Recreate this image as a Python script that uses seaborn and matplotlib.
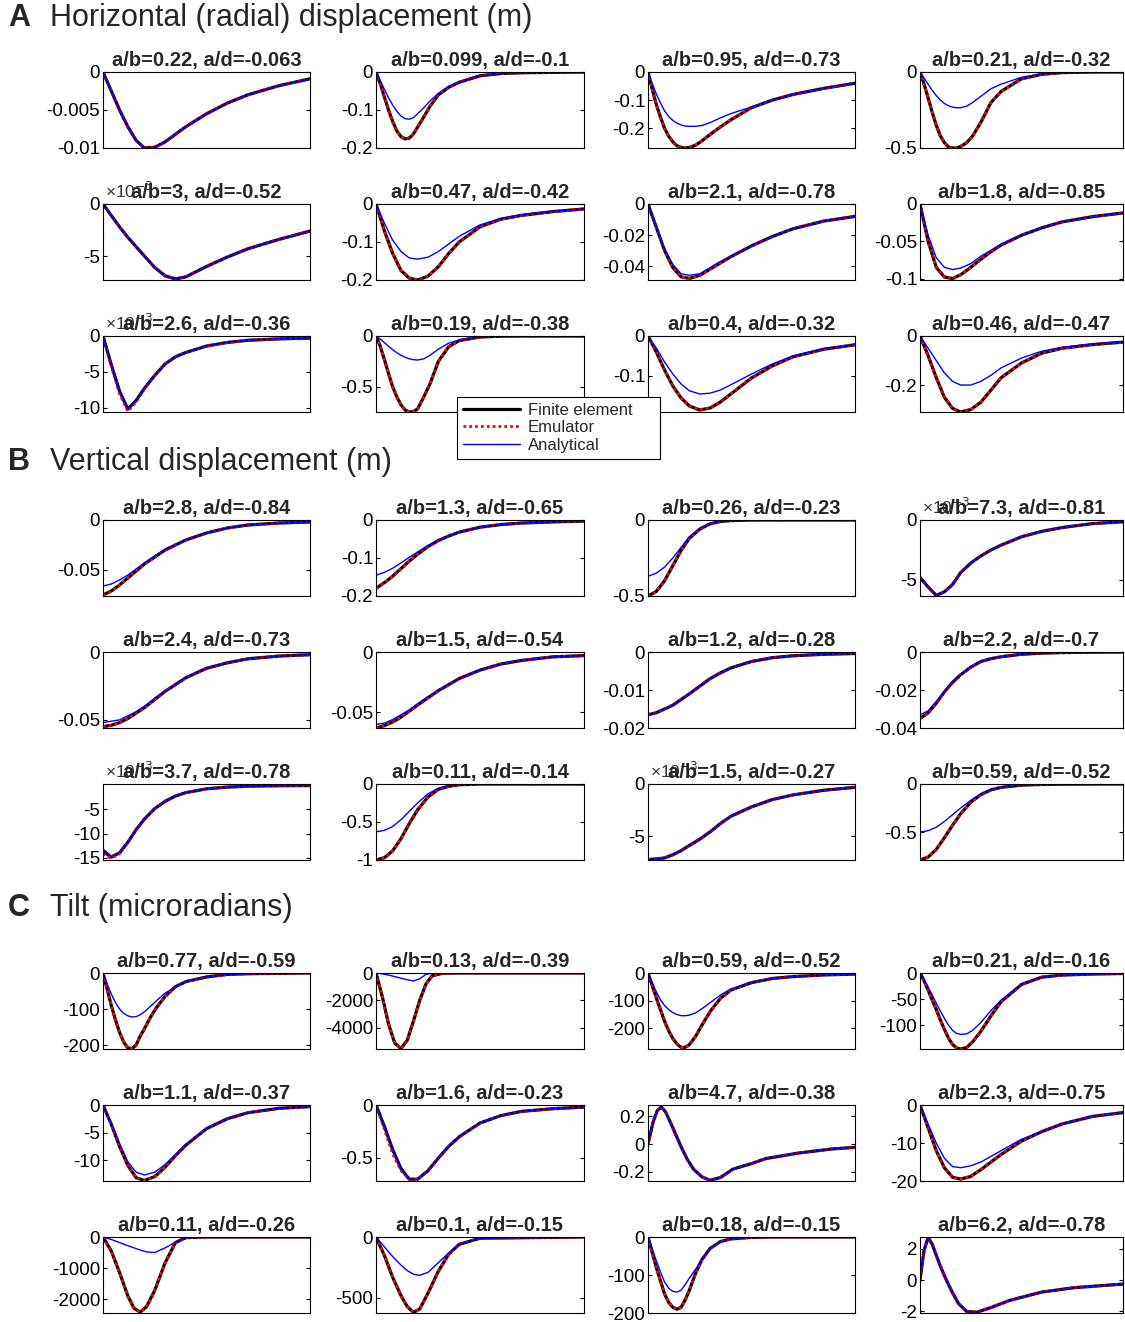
import matplotlib
matplotlib.use("Agg")
import matplotlib.pyplot as plt
import seaborn as sns
from matplotlib.lines import Line2D

# ---------------- x grids (fraction of the distance axis) ----------------
X_STD = [0, .04, .08, .12, .16, .2, .25, .3, .35, .4, .5, .6, .7, .85, 1.0]
X_FINE = [0, .02, .04, .06, .08, .1, .12, .14, .16, .18, .2, .23, .26, .3, .35, .4, .5, .6, .7, .85, 1.0]
X_C2 = [0, .03, .06, .09, .12, .15, .18, .21, .24, .27, .32, .4, .6, 1.0]
X_C7 = [0, .025, .045, .065, .085, .11, .135, .16, .19, .22, .26, .3, .35, .41, .5, .57, .73, .89, 1.0]
X_C9 = [0, .04, .08, .12, .15, .18, .21, .25, .3, .35, .4, .5, 1.0]
X_C12 = [0, .02, .04, .06, .08, .1, .13, .16, .19, .23, .28, .35, .44, .6, .76, 1.0]

# ---------------- titles ----------------
titles = [
    "a/b=0.22, a/d=-0.063", "a/b=0.099, a/d=-0.1", "a/b=0.95, a/d=-0.73", "a/b=0.21, a/d=-0.32",
    "a/b=3, a/d=-0.52", "a/b=0.47, a/d=-0.42", "a/b=2.1, a/d=-0.78", "a/b=1.8, a/d=-0.85",
    "a/b=2.6, a/d=-0.36", "a/b=0.19, a/d=-0.38", "a/b=0.4, a/d=-0.32", "a/b=0.46, a/d=-0.47",
    "a/b=2.8, a/d=-0.84", "a/b=1.3, a/d=-0.65", "a/b=0.26, a/d=-0.23", "a/b=7.3, a/d=-0.81",
    "a/b=2.4, a/d=-0.73", "a/b=1.5, a/d=-0.54", "a/b=1.2, a/d=-0.28", "a/b=2.2, a/d=-0.7",
    "a/b=3.7, a/d=-0.78", "a/b=0.11, a/d=-0.14", "a/b=1.5, a/d=-0.27", "a/b=0.59, a/d=-0.52",
    "a/b=0.77, a/d=-0.59", "a/b=0.13, a/d=-0.39", "a/b=0.59, a/d=-0.52", "a/b=0.21, a/d=-0.16",
    "a/b=1.1, a/d=-0.37", "a/b=1.6, a/d=-0.23", "a/b=4.7, a/d=-0.38", "a/b=2.3, a/d=-0.75",
    "a/b=0.11, a/d=-0.26", "a/b=0.1, a/d=-0.15", "a/b=0.18, a/d=-0.15", "a/b=6.2, a/d=-0.78",
]

# ---------------- A: horizontal displacement ----------------
A1_fe = [0, -0.0025, -0.005, -0.0072, -0.009, -0.01, -0.0099, -0.0092, -0.0082, -0.0072, -0.0055, -0.0041, -0.003, -0.0018, -0.0009]
A1_an = A1_fe
A2_fe = [0, -0.03, -0.065, -0.1, -0.13, -0.155, -0.17, -0.176, -0.174, -0.163, -0.145, -0.118, -0.09, -0.06, -0.04, -0.027, -0.01, -0.004, -0.002, -0.001, 0]
A2_an = [0, -0.022, -0.045, -0.067, -0.087, -0.103, -0.116, -0.123, -0.124, -0.12, -0.11, -0.094, -0.076, -0.056, -0.038, -0.027, -0.01, -0.004, -0.002, -0.001, 0]
A3_fe = [0, -0.06, -0.115, -0.16, -0.2, -0.228, -0.248, -0.262, -0.268, -0.27, -0.268, -0.26, -0.245, -0.222, -0.195, -0.17, -0.127, -0.1, -0.08, -0.058, -0.04]
A3_an = [0, -0.04, -0.078, -0.11, -0.138, -0.158, -0.172, -0.182, -0.188, -0.192, -0.193, -0.193, -0.19, -0.18, -0.163, -0.148, -0.124, -0.1, -0.08, -0.058, -0.04]
A4_fe = [0, -0.08, -0.17, -0.265, -0.35, -0.42, -0.465, -0.493, -0.5, -0.5, -0.49, -0.465, -0.42, -0.33, -0.2, -0.127, -0.045, -0.015, -0.004, 0, 0]
A4_an = [0, -0.04, -0.08, -0.12, -0.155, -0.185, -0.207, -0.222, -0.231, -0.235, -0.235, -0.225, -0.2, -0.16, -0.11, -0.08, -0.035, -0.013, -0.004, 0, 0]
A5_fe = [0, -1.1, -2.2, -3.2, -4.1, -5.0, -6.1, -6.9, -7.2, -7.0, -6.0, -5.1, -4.3, -3.4, -2.6]
A5_an = A5_fe
A6_fe = [0, -0.07, -0.13, -0.175, -0.195, -0.2, -0.19, -0.165, -0.13, -0.1, -0.06, -0.04, -0.03, -0.02, -0.013]
A6_an = [0, -0.05, -0.095, -0.125, -0.142, -0.145, -0.14, -0.125, -0.105, -0.085, -0.055, -0.038, -0.028, -0.019, -0.013]
A7_fe = [0, -0.015, -0.03, -0.041, -0.047, -0.048, -0.046, -0.042, -0.038, -0.034, -0.027, -0.021, -0.016, -0.011, -0.008]
A7_an = [0, -0.015, -0.029, -0.039, -0.045, -0.046, -0.045, -0.041, -0.037, -0.034, -0.027, -0.021, -0.016, -0.011, -0.008]
A8_fe = [0, -0.05, -0.085, -0.098, -0.1, -0.095, -0.085, -0.074, -0.064, -0.055, -0.042, -0.032, -0.024, -0.017, -0.012]
A8_an = [0, -0.042, -0.072, -0.085, -0.088, -0.086, -0.08, -0.07, -0.062, -0.054, -0.042, -0.032, -0.024, -0.017, -0.012]
A9_fe = [0, -4.0, -7.7, -10.2, -9.0, -7.3, -5.5, -3.9, -2.9, -2.3, -1.4, -0.9, -0.6, -0.4, -0.3]
A9_em = [0, -4.2, -8.1, -10.5, -9.2, -7.4, -5.5, -3.9, -2.9, -2.3, -1.4, -0.9, -0.6, -0.4, -0.3]
A9_an = A9_fe
A10_fe = [0, -0.1, -0.23, -0.37, -0.5, -0.6, -0.68, -0.73, -0.75, -0.745, -0.72, -0.6, -0.47, -0.25, -0.105, -0.045, -0.01, -0.002, 0, 0, 0]
A10_an = [0, -0.03, -0.065, -0.1, -0.135, -0.165, -0.19, -0.21, -0.225, -0.234, -0.237, -0.225, -0.19, -0.13, -0.07, -0.04, -0.01, -0.002, 0, 0, 0]
A11_fe = [0, -0.04, -0.085, -0.125, -0.155, -0.175, -0.185, -0.18, -0.165, -0.145, -0.105, -0.075, -0.052, -0.033, -0.022]
A11_an = [0, -0.03, -0.065, -0.095, -0.12, -0.137, -0.145, -0.143, -0.135, -0.122, -0.095, -0.07, -0.05, -0.032, -0.022]
A12_fe = [0, -0.08, -0.17, -0.25, -0.295, -0.31, -0.3, -0.27, -0.22, -0.17, -0.11, -0.07, -0.05, -0.035, -0.025]
A12_an = [0, -0.05, -0.1, -0.15, -0.185, -0.2, -0.2, -0.185, -0.16, -0.13, -0.09, -0.062, -0.046, -0.033, -0.025]

# ---------------- B: vertical displacement ----------------
B1_fe = [-0.075, -0.071, -0.065, -0.058, -0.051, -0.044, -0.037, -0.03, -0.025, -0.02, -0.013, -0.008, -0.005, -0.003, -0.002]
B1_an = [-0.066, -0.064, -0.06, -0.055, -0.049, -0.043, -0.036, -0.03, -0.025, -0.02, -0.013, -0.008, -0.005, -0.003, -0.002]
B2_fe = [-0.18, -0.165, -0.148, -0.128, -0.108, -0.09, -0.07, -0.054, -0.042, -0.032, -0.019, -0.012, -0.008, -0.005, -0.003]
B2_an = [-0.145, -0.138, -0.127, -0.113, -0.098, -0.084, -0.067, -0.054, -0.042, -0.032, -0.019, -0.012, -0.008, -0.005, -0.003]
B3_fe = [-0.5, -0.47, -0.4, -0.3, -0.2, -0.12, -0.06, -0.025, -0.01, -0.004, 0, 0, 0, 0, 0]
B3_an = [-0.37, -0.35, -0.31, -0.25, -0.18, -0.11, -0.055, -0.022, -0.01, -0.004, 0, 0, 0, 0, 0]
B4_fe = [-4.8, -5.6, -6.3, -6.0, -5.4, -4.4, -3.6, -3.0, -2.5, -2.1, -1.4, -0.95, -0.63, -0.3, -0.15]
B4_an = B4_fe
B5_fe = [-0.055, -0.054, -0.052, -0.049, -0.045, -0.041, -0.035, -0.029, -0.024, -0.019, -0.012, -0.008, -0.005, -0.003, -0.002]
B5_an = [-0.052, -0.051, -0.05, -0.047, -0.044, -0.04, -0.034, -0.029, -0.024, -0.019, -0.012, -0.008, -0.005, -0.003, -0.002]
B6_fe = [-0.063, -0.061, -0.058, -0.054, -0.049, -0.044, -0.038, -0.032, -0.027, -0.022, -0.015, -0.01, -0.007, -0.004, -0.003]
B6_an = [-0.06, -0.059, -0.056, -0.052, -0.048, -0.043, -0.037, -0.032, -0.027, -0.022, -0.015, -0.01, -0.007, -0.004, -0.003]
B7_fe = [-0.0165, -0.016, -0.015, -0.014, -0.0125, -0.011, -0.009, -0.007, -0.0055, -0.0042, -0.0025, -0.0015, -0.001, -0.0006, -0.0004]
B7_an = B7_fe
B8_fe = [-0.035, -0.032, -0.027, -0.021, -0.016, -0.012, -0.008, -0.005, -0.0035, -0.0025, -0.0012, -0.0006, -0.0003, -0.0001, 0]
B8_an = [-0.033, -0.031, -0.026, -0.021, -0.016, -0.012, -0.008, -0.005, -0.0035, -0.0025, -0.0012, -0.0006, -0.0003, -0.0001, 0]
B9_fe = [-13.7, -14.9, -14.0, -11.8, -9.2, -7.0, -4.8, -3.3, -2.2, -1.5, -0.7, -0.35, -0.15, -0.06, -0.03]
B9_em = [-14.2, -15.2, -14.2, -11.9, -9.2, -7.0, -4.8, -3.3, -2.2, -1.5, -0.7, -0.35, -0.15, -0.06, -0.03]
B9_an = [-13.2, -14.7, -13.9, -11.8, -9.2, -7.0, -4.8, -3.3, -2.2, -1.5, -0.7, -0.35, -0.15, -0.06, -0.03]
B10_fe = [-1.0, -0.97, -0.88, -0.72, -0.52, -0.34, -0.17, -0.07, -0.03, -0.01, 0, 0, 0, 0, 0]
B10_an = [-0.63, -0.61, -0.56, -0.47, -0.36, -0.25, -0.13, -0.055, -0.02, -0.008, 0, 0, 0, 0, 0]
B11_fe = [-7.25, -7.2, -7.1, -6.8, -6.4, -5.9, -5.3, -4.6, -3.8, -3.1, -2.2, -1.5, -1.05, -0.6, -0.32]
B11_an = B11_fe
B12_fe = [-0.79, -0.76, -0.68, -0.56, -0.43, -0.31, -0.19, -0.11, -0.06, -0.035, -0.012, -0.005, -0.002, 0, 0]
B12_an = [-0.5, -0.485, -0.45, -0.39, -0.32, -0.25, -0.17, -0.1, -0.06, -0.035, -0.012, -0.005, -0.002, 0, 0]

# ---------------- C: tilt ----------------
C1_fe = [0, -45, -90, -130, -165, -192, -208, -210, -200, -175, -155, -122, -95, -65, -38, -24, -11, -4, -2, -1, 0]
C1_an = [0, -30, -58, -82, -100, -112, -119, -122, -121, -116, -108, -92, -76, -56, -38, -24, -11, -4, -2, -1, 0]
C2_fe = [0, -1700, -3700, -5100, -5500, -4900, -3500, -2000, -800, -200, -20, 0, 0, 0]
C2_an = [0, -60, -150, -260, -380, -490, -580, -420, -100, -20, 0, 0, 0, 0]
C3_fe = [0, -45, -90, -133, -175, -210, -238, -258, -270, -270, -260, -230, -190, -140, -92, -62, -35, -20, -13, -7, -4]
C3_an = [0, -35, -68, -97, -118, -133, -144, -151, -155, -155, -153, -145, -130, -108, -80, -58, -35, -20, -13, -7, -4]
C4_fe = [0, -15, -33, -52, -70, -90, -108, -125, -137, -144, -146, -143, -132, -112, -82, -55, -22, -8, -4, -2, -1]
C4_an = [0, -12, -27, -42, -58, -73, -87, -100, -110, -116, -118, -117, -110, -95, -72, -52, -22, -8, -4, -2, -1]
C5_fe = [0, -3.5, -7.5, -11, -13.2, -13.7, -13, -11.3, -9.2, -7.3, -4.3, -2.5, -1.4, -0.6, -0.3]
C5_an = [0, -3.3, -7, -10.3, -12.2, -12.7, -12.2, -10.8, -9, -7.3, -4.3, -2.5, -1.4, -0.6, -0.3]
C6_fe = [0, -0.2, -0.42, -0.6, -0.7, -0.7, -0.62, -0.5, -0.39, -0.3, -0.17, -0.1, -0.06, -0.035, -0.02]
C6_em = [0, -0.23, -0.46, -0.62, -0.7, -0.7, -0.62, -0.5, -0.39, -0.3, -0.17, -0.1, -0.06, -0.035, -0.02]
C6_an = C6_fe
C7_fe = [0, 0.16, 0.24, 0.266, 0.23, 0.15, 0.065, -0.02, -0.11, -0.18, -0.235, -0.26, -0.24, -0.18, -0.14, -0.104, -0.064, -0.035, -0.024]
C7_an = C7_fe
C8_fe = [0, -6, -12, -16.5, -19, -19.5, -18.8, -17, -15, -13, -9.5, -7, -5, -3, -2]
C8_an = [0, -5, -10, -14, -16.2, -16.5, -16, -15, -13.5, -12, -9, -7, -5, -3, -2]
C9_fe = [0, -450, -1150, -1900, -2300, -2420, -2250, -1720, -830, -180, -20, 0, 0]
C9_an = [0, -80, -180, -280, -350, -420, -480, -500, -350, -170, -20, 0, 0]
C10_fe = [0, -150, -330, -480, -570, -618, -590, -460, -280, -140, -60, -10, 0]
C10_an = [0, -80, -160, -230, -275, -305, -314, -290, -210, -130, -60, -10, 0]
C11_fe = [0, -40, -80, -115, -150, -172, -185, -190, -185, -165, -140, -95, -60, -30, -12, -5, -1, 0, 0, 0, 0]
C11_an = [0, -30, -62, -92, -118, -135, -143, -145, -140, -125, -108, -85, -58, -30, -12, -5, -1, 0, 0, 0, 0]
C12_fe = [0, 1.9, 2.74, 2.3, 1.6, 0.9, 0, -0.8, -1.5, -2.0, -2.05, -1.75, -1.3, -0.76, -0.48, -0.25]
C12_an = C12_fe

# ---------------- y tick labels and limits ----------------
ytick_labels = [
    ['0', '-0.005', '-0.01'], ['0', '-0.1', '-0.2'], ['0', '-0.1', '-0.2'], ['0', '-0.5'],
    ['0', '-5'], ['0', '-0.1', '-0.2'], ['0', '-0.02', '-0.04'], ['0', '-0.05', '-0.1'],
    ['0', '-5', '-10'], ['0', '-0.5'], ['0', '-0.1'], ['0', '-0.2'],
    ['0', '-0.05'], ['0', '-0.1', '-0.2'], ['0', '-0.5'], ['0', '-5'],
    ['0', '-0.05'], ['0', '-0.05'], ['0', '-0.01', '-0.02'], ['0', '-0.02', '-0.04'],
    ['-5', '-10', '-15'], ['0', '-0.5', '-1'], ['0', '-5'], ['0', '-0.5'],
    ['0', '-100', '-200'], ['0', '-2000', '-4000'], ['0', '-100', '-200'], ['0', '-50', '-100'],
    ['0', '-5', '-10'], ['0', '-0.5'], ['0.2', '0', '-0.2'], ['0', '-10', '-20'],
    ['0', '-1000', '-2000'], ['0', '-500'], ['0', '-100', '-200'], ['2', '0', '-2'],
]
ylims = [
    (-0.01, 0), (-0.2, 0), (-0.27, 0), (-0.5, 0),
    (-7.3, 0), (-0.2, 0), (-0.049, 0), (-0.102, 0),
    (-10.6, 0), (-0.75, 0), (-0.19, 0), (-0.31, 0),
    (-0.076, 0), (-0.2, 0), (-0.5, 0), (-6.35, 0),
    (-0.056, 0), (-0.063, 0), (-0.02, 0), (-0.04, 0),
    (-15.5, 0.3), (-1.0, 0), (-7.3, 0), (-0.79, 0),
    (-211, 0), (-5530, 0), (-276, 0), (-146, 0),
    (-13.8, 0), (-0.717, 0), (-0.265, 0.28), (-20, 0),
    (-2450, 0), (-623, 0), (-200, 0), (-2.1, 2.76),
]
exp_panels = [4, 8, 15, 20, 22]

panels = [
    (X_STD, A1_fe, A1_fe, A1_an), (X_FINE, A2_fe, A2_fe, A2_an), (X_FINE, A3_fe, A3_fe, A3_an), (X_FINE, A4_fe, A4_fe, A4_an),
    (X_STD, A5_fe, A5_fe, A5_an), (X_STD, A6_fe, A6_fe, A6_an), (X_STD, A7_fe, A7_fe, A7_an), (X_STD, A8_fe, A8_fe, A8_an),
    (X_STD, A9_fe, A9_em, A9_an), (X_FINE, A10_fe, A10_fe, A10_an), (X_STD, A11_fe, A11_fe, A11_an), (X_STD, A12_fe, A12_fe, A12_an),
    (X_STD, B1_fe, B1_fe, B1_an), (X_STD, B2_fe, B2_fe, B2_an), (X_STD, B3_fe, B3_fe, B3_an), (X_STD, B4_fe, B4_fe, B4_an),
    (X_STD, B5_fe, B5_fe, B5_an), (X_STD, B6_fe, B6_fe, B6_an), (X_STD, B7_fe, B7_fe, B7_an), (X_STD, B8_fe, B8_fe, B8_an),
    (X_STD, B9_fe, B9_em, B9_an), (X_STD, B10_fe, B10_fe, B10_an), (X_STD, B11_fe, B11_fe, B11_an), (X_STD, B12_fe, B12_fe, B12_an),
    (X_FINE, C1_fe, C1_fe, C1_an), (X_C2, C2_fe, C2_fe, C2_an), (X_FINE, C3_fe, C3_fe, C3_an), (X_FINE, C4_fe, C4_fe, C4_an),
    (X_STD, C5_fe, C5_fe, C5_an), (X_STD, C6_fe, C6_em, C6_an), (X_C7, C7_fe, C7_fe, C7_an), (X_STD, C8_fe, C8_fe, C8_an),
    (X_C9, C9_fe, C9_fe, C9_an), (X_C9, C10_fe, C10_fe, C10_an), (X_FINE, C11_fe, C11_fe, C11_an), (X_C12, C12_fe, C12_fe, C12_an),
]

section_titles = [("A", "Horizontal (radial) displacement (m)", 18),
                  ("B", "Vertical displacement (m)", 462),
                  ("C", "Tilt (microradians)", 908)]

# ---------------- drawing ----------------
sns.set_theme(style="white")
plt.rcParams['font.family'] = ['Liberation Sans', 'DejaVu Sans']

W, H = 1125, 1322
fig = plt.figure(figsize=(W / 100, H / 100), dpi=100)
fig.patch.set_facecolor('white')

COL_LEFT = [103, 376, 648, 920]
COL_W = [207, 208, 207, 203]
ROW_TOP = [72, 204, 336, 520, 652, 784, 973, 1105, 1237]
AX_H = 76

FE_KW = dict(color='black', linewidth=2.3)
EM_KW = dict(color='#ff0000', linewidth=2.0, linestyle=(0, (1, 1.1)))
AN_KW = dict(color='#0000ff', linewidth=1.0)

for i, (x, fe, em, an) in enumerate(panels):
    r, c = divmod(i, 4)
    ax = fig.add_axes([COL_LEFT[c] / W, 1 - (ROW_TOP[r] + AX_H) / H, COL_W[c] / W, AX_H / H])
    sns.lineplot(x=x, y=fe, ax=ax, estimator=None, sort=False, **FE_KW)
    sns.lineplot(x=x, y=em, ax=ax, estimator=None, sort=False, **EM_KW)
    sns.lineplot(x=x, y=an, ax=ax, estimator=None, sort=False, **AN_KW)
    ax.set_xlim(0, 1)
    ax.set_ylim(*ylims[i])
    labels = ytick_labels[i]
    ax.set_yticks([float(s) for s in labels])
    ax.set_yticklabels(labels)
    ax.set_xticks([])
    ax.set_xlabel('')
    ax.set_ylabel('')
    ax.tick_params(axis='y', direction='in', length=3, width=0.8, left=True, right=True,
                   labelsize=13.5, pad=2, colors='black')
    for sp in ax.spines.values():
        sp.set_color('black')
        sp.set_linewidth(0.8)
    if i in exp_panels:
        ax.text(0.01, 1.04, '×10$^{-3}$', transform=ax.transAxes, ha='left', va='bottom',
                fontsize=12.5, color='#333333', zorder=1)
    ax.set_title(titles[i], fontsize=14.5, fontweight='bold', pad=4)

for letter, text, ypx in section_titles:
    fig.text(8 / W, 1 - ypx / H, letter, fontsize=22, fontweight='bold', va='center', ha='left')
    fig.text(50 / W, 1 - ypx / H, text, fontsize=22, va='center', ha='left')

handles = [Line2D([], [], **FE_KW), Line2D([], [], **EM_KW), Line2D([], [], **AN_KW)]
leg = fig.legend(handles, ['Finite element', 'Emulator', 'Analytical'],
                 loc='upper left', bbox_to_anchor=(457 / W, 1 - 472 / H, 203 / W, 75 / H),
                 mode='expand', fontsize=12, frameon=True, fancybox=False, framealpha=1,
                 edgecolor='black', handlelength=3.4, borderpad=0.35,
                 labelspacing=0.15, handletextpad=0.5, borderaxespad=0)
leg.get_frame().set_linewidth(0.8)

fig.savefig('out.png', dpi=100, facecolor='white')
